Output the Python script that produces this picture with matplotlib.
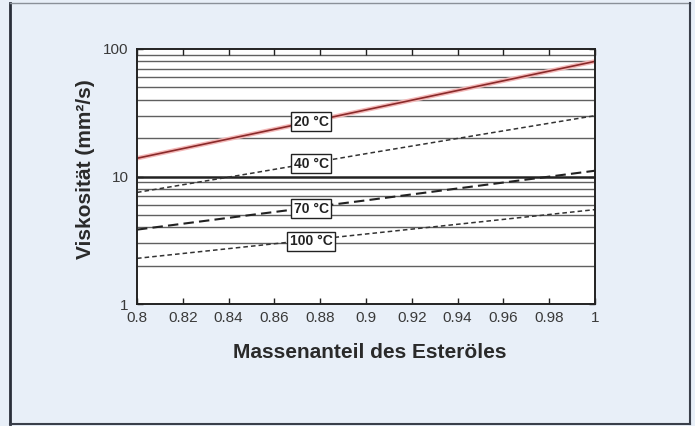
import matplotlib
matplotlib.use("Agg")
import matplotlib.pyplot as plt
from matplotlib.lines import Line2D
from matplotlib.ticker import FixedLocator, NullFormatter, NullLocator

plt.rcParams['font.family'] = ['Liberation Sans', 'DejaVu Sans']

# Data
mass_fraction = [0.80, 0.85, 0.90, 0.95, 1.00]
visc_20 = [13.9, 21.5, 33.3, 51.6, 80.0]
visc_40 = [7.5, 10.6, 15.1, 21.3, 30.0]
visc_70 = [3.83, 5.0, 6.5, 8.5, 11.1]
visc_100 = [2.28, 2.84, 3.54, 4.41, 5.5]
series_labels = ["20 °C", "40 °C", "70 °C", "100 °C"]
label_x = 0.876
label_y = [27.0, 12.6, 5.6, 3.1]
x_ticks = [0.8, 0.82, 0.84, 0.86, 0.88, 0.9, 0.92, 0.94, 0.96, 0.98, 1.0]
x_tick_labels = ["0.8", "0.82", "0.84", "0.86", "0.88", "0.9", "0.92", "0.94", "0.96", "0.98", "1"]
y_ticks = [1, 10, 100]
y_tick_labels = ["1", "10", "100"]
grid_values = [2, 3, 4, 5, 6, 7, 8, 9, 20, 30, 40, 50, 60, 70, 80, 90]

bg = "#e8eff8"
fig = plt.figure(figsize=(6.95, 4.26), dpi=100, facecolor=bg)
ax = fig.add_axes([137/695, 1-304/426, (595-137)/695, (304-49)/426])
ax.set_facecolor("white")

ax.set_yscale("log")
ax.set_xlim(0.8, 1.0)
ax.set_ylim(1, 100)

for g in grid_values:
    ax.axhline(g, color="#606060", lw=1.0, zorder=1)
ax.axhline(10, color="#222222", lw=1.8, zorder=1)

ax.plot(mass_fraction, visc_20, color="#f4b8b8", lw=3.2, zorder=2, solid_capstyle="butt")
ax.plot(mass_fraction, visc_20, color="#8a2a2a", lw=1.2, zorder=3)
ax.plot(mass_fraction, visc_40, color="#333333", lw=1.1, ls=(0, (3, 2)), zorder=3)
ax.plot(mass_fraction, visc_70, color="#222222", lw=1.5, ls=(0, (5, 2.5)), zorder=3)
ax.plot(mass_fraction, visc_100, color="#333333", lw=1.1, ls=(0, (3, 2)), zorder=3)

for lab, yv in zip(series_labels, label_y):
    ax.text(label_x, yv, lab, ha="center", va="center", fontsize=10, fontweight="bold",
            color="#222222", zorder=5,
            bbox=dict(boxstyle="square,pad=0.18", facecolor="white", edgecolor="#222222", lw=1.0))

ax.xaxis.set_major_locator(FixedLocator(x_ticks))
ax.set_xticklabels(x_tick_labels)
ax.yaxis.set_major_locator(FixedLocator(y_ticks))
ax.yaxis.set_minor_locator(NullLocator())
ax.yaxis.set_minor_formatter(NullFormatter())
ax.set_yticklabels(y_tick_labels)
ax.tick_params(axis="x", direction="in", top=True, length=4, width=1, labelsize=11,
               colors="#222222", labelcolor="#3a3a3a", pad=5)
ax.tick_params(axis="y", direction="in", right=True, length=4, width=1, labelsize=11,
               colors="#222222", labelcolor="#3a3a3a", pad=6)
for s in ax.spines.values():
    s.set_linewidth(1.4)
    s.set_color("#222222")
    s.set_zorder(6)

ax.set_xlabel("Massenanteil des Esteröles", fontsize=15, fontweight="bold", color="#2a2a2a")
ax.set_ylabel("Viskosität (mm²/s)", fontsize=15, fontweight="bold", color="#2a2a2a")
ax.xaxis.set_label_coords(0.509, -0.153)
ax.yaxis.set_label_coords(-0.092, 0.53)

# outer frame
fig.add_artist(Line2D([10/695, 10/695], [2/426, 423/426], transform=fig.transFigure, color="#2a2f3a", lw=2.0))
fig.add_artist(Line2D([10/695, 690/695], [423/426, 423/426], transform=fig.transFigure, color="#8a9098", lw=1.0))
fig.add_artist(Line2D([690/695, 690/695], [2/426, 423/426], transform=fig.transFigure, color="#3a3f4a", lw=1.5))
fig.add_artist(Line2D([10/695, 690/695], [2/426, 2/426], transform=fig.transFigure, color="#3a3f4a", lw=1.5))

fig.savefig("out.png", dpi=100, facecolor=bg)
